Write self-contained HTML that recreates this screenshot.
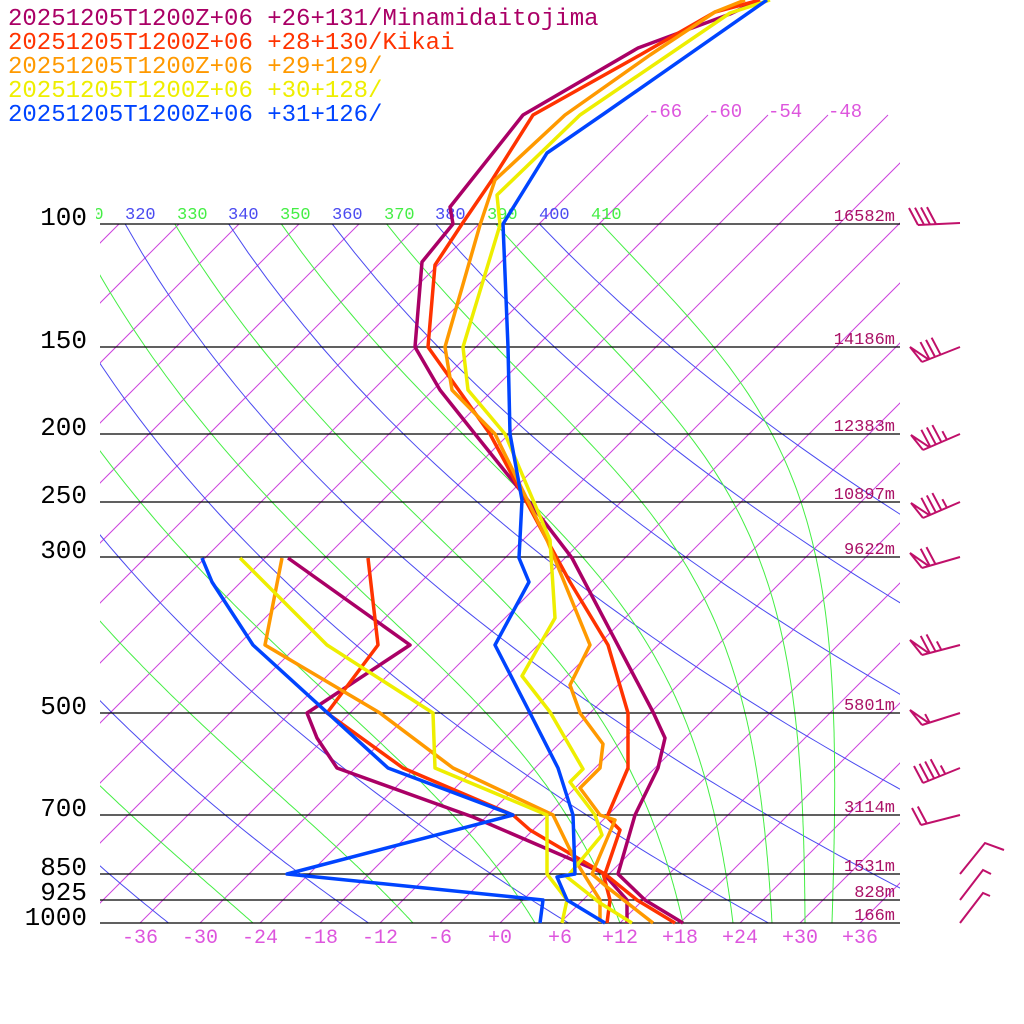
<!DOCTYPE html>
<html><head><meta charset="utf-8"><style>
html,body{margin:0;padding:0;background:#fff;}
svg{display:block}
.t{font-family:"Liberation Mono",monospace;}
</style></head><body>
<svg id="s" width="1024" height="1024" viewBox="0 0 1024 1024" xmlns="http://www.w3.org/2000/svg">
<defs>
<clipPath id="cIso"><rect x="100" y="0" width="800" height="923"/></clipPath>
<clipPath id="cAd"><rect x="100" y="224" width="800" height="699"/></clipPath>
<clipPath id="cLab"><rect x="96" y="190" width="804" height="40"/></clipPath>
</defs>
<g id="iso" clip-path="url(#cIso)" stroke="#cc44dd" stroke-width="1" fill="none"></g>
<g id="dry" clip-path="url(#cAd)" stroke="#4a4af0" stroke-width="1" fill="none"></g>
<g id="moist" clip-path="url(#cAd)" stroke="#44ee44" stroke-width="1" fill="none"></g>
<g stroke="#000" stroke-width="1.3">
<line x1="100" x2="900" y1="224" y2="224"/><line x1="100" x2="900" y1="347" y2="347"/>
<line x1="100" x2="900" y1="434" y2="434"/><line x1="100" x2="900" y1="502" y2="502"/>
<line x1="100" x2="900" y1="557" y2="557"/><line x1="100" x2="900" y1="713" y2="713"/>
<line x1="100" x2="900" y1="815" y2="815"/><line x1="100" x2="900" y1="874" y2="874"/>
<line x1="100" x2="900" y1="900" y2="900"/><line x1="100" x2="900" y1="923" y2="923"/>
</g>
<g class="t" font-size="17" clip-path="url(#cLab)">
<text x="73" y="219" fill="#44ee44">310</text>
<text x="125" y="219" fill="#4a4af0">320</text>
<text x="177" y="219" fill="#44ee44">330</text>
<text x="228" y="219" fill="#4a4af0">340</text>
<text x="280" y="219" fill="#44ee44">350</text>
<text x="332" y="219" fill="#4a4af0">360</text>
<text x="384" y="219" fill="#44ee44">370</text>
<text x="435" y="219" fill="#4a4af0">380</text>
<text x="487" y="219" fill="#44ee44">390</text>
<text x="539" y="219" fill="#4a4af0">400</text>
<text x="591" y="219" fill="#44ee44">410</text>
</g>
<g class="t" font-size="19" fill="#dd55dd">
<text x="648" y="117">-66</text><text x="708" y="117">-60</text>
<text x="768" y="117">-54</text><text x="828" y="117">-48</text>
</g>
<g class="t" font-size="20" fill="#dd55dd">
<text x="122" y="943">-36</text><text x="182" y="943">-30</text><text x="242" y="943">-24</text>
<text x="302" y="943">-18</text><text x="362" y="943">-12</text><text x="428" y="943">-6</text>
<text x="488" y="943">+0</text><text x="548" y="943">+6</text><text x="602" y="943">+12</text>
<text x="662" y="943">+18</text><text x="722" y="943">+24</text><text x="782" y="943">+30</text>
<text x="842" y="943">+36</text>
</g>
<g class="t" font-size="26" fill="#000" text-anchor="end">
<text x="87" y="225">100</text><text x="87" y="348">150</text><text x="87" y="435">200</text>
<text x="87" y="503">250</text><text x="87" y="558">300</text><text x="87" y="714">500</text>
<text x="87" y="816">700</text><text x="87" y="875">850</text><text x="87" y="900">925</text>
<text x="87" y="925">1000</text>
</g>
<g class="t" font-size="17" fill="#aa1166" text-anchor="end">
<text x="895" y="221">16582m</text><text x="895" y="344">14186m</text><text x="895" y="431">12383m</text>
<text x="895" y="499">10897m</text><text x="895" y="554">9622m</text><text x="895" y="710">5801m</text>
<text x="895" y="812">3114m</text><text x="895" y="871">1531m</text><text x="895" y="897">828m</text>
<text x="895" y="920">166m</text>
</g>
<g fill="none" stroke-width="3.5" stroke-linejoin="round">
<polyline stroke="#aa0066" points="683,923 645,900 618,874 635,815 658,768 665,738 653,712 572,558 520,490 475,434 440,390 415,347 422,262 453,224 450,207 523,115 638,48 730,14 760,0"/>
<polyline stroke="#aa0066" points="627,923 627,900 603,873 473,817 337,768 317,738 307,713 410,645 288,558"/>
<polyline stroke="#ff3300" points="675,923 637,900 605,874 620,830 607,817 628,768 628,713 608,645 570,582 547,540 490,434 428,347 435,265 462,224 492,180 533,115 640,55 715,12 760,0"/>
<polyline stroke="#ff3300" points="607,923 610,900 603,873 530,830 513,815 403,768 327,713 378,645 368,558"/>
<polyline stroke="#ff9900" points="653,923 607,887 592,874 615,820 600,815 580,788 600,768 603,744 580,713 570,685 590,645 547,540 495,434 452,390 445,347 480,225 495,180 565,115 650,55 715,12 745,0"/>
<polyline stroke="#ff9900" points="600,923 600,900 575,860 553,815 453,768 380,713 265,645 282,558"/>
<polyline stroke="#eeee00" points="632,923 600,903 567,877 602,835 595,815 570,782 583,769 550,712 522,676 555,618 550,540 505,434 468,390 463,347 500,225 497,195 580,115 730,13 770,0"/>
<polyline stroke="#eeee00" points="562,923 567,900 547,874 547,815 435,768 433,713 327,645 240,558"/>
<polyline stroke="#0044ff" points="605,923 567,900 557,877 575,874 573,815 558,768 530,713 495,645 529,582 519,558 522,500 510,434 508,347 503,224 547,153 605,113 767,0"/>
<polyline stroke="#0044ff" points="540,923 543,900 287,874 513,815 388,768 253,645 212,582 202,558"/>
</g>
<g id="barbs" stroke="#c0106a" stroke-width="2" fill="none"></g>
<g class="t" font-size="24">
<text x="8" y="25" fill="#aa0066">20251205T1200Z+06 +26+131/Minamidaitojima</text>
<text x="8" y="49" fill="#ff3300">20251205T1200Z+06 +28+130/Kikai</text>
<text x="8" y="73" fill="#ff9900">20251205T1200Z+06 +29+129/</text>
<text x="8" y="97" fill="#eeee00">20251205T1200Z+06 +30+128/</text>
<text x="8" y="121" fill="#0044ff">20251205T1200Z+06 +31+126/</text>
</g>
</svg>
<script>
(function(){
var NS="http://www.w3.org/2000/svg";
function add(g,d){var p=document.createElementNS(NS,"path");p.setAttribute("d",d);document.getElementById(g).appendChild(p);}
function Y(p){return 923-303.6*Math.log(1000/p);}
function X(T,y){return 500+10*T+(923-y);}
for(var T=-150;T<=40;T+=6){var yt=T>=-66?115:224;add("iso","M"+X(T,923)+",923L"+X(T,yt)+","+yt);}
for(var th=160;th<=400;th+=20){var d="";for(var p=100;p<=1000;p+=10){var t=th*Math.pow(p/1000,0.2857)-273.15;var y=Y(p);d+=(p==100?"M":"L")+X(t,y).toFixed(1)+","+y.toFixed(1);}add("dry",d);}
var starts=[-88,-72,-56.7,-40.7,-24.7,-8.7,3.5,12,18.3,23.3,27.2,30.5,33.2];
for(var k=0;k<starts.length;k++){var TK=starts[k]+273.15;var d="";for(var p=1000;p>=100;p-=1){var y=Y(p);if(p%5==0)d+=(p==1000?"M":"L")+X(TK-273.15,y).toFixed(1)+","+y.toFixed(1);var tc=TK-273.15;var es=6.112*Math.exp(17.67*tc/(tc+243.5));var rs=0.622*es/Math.max(p-es,1);var dT=(287*TK+2.5e6*rs)/(p*(1005+2.5e6*2.5e6*rs*0.622/(287*TK*TK)));TK-=dT;}add("moist",d);}
var bv=[-9,-17];
function barb(tx,ty,bx,by,items){var ux=tx-bx,uy=ty-by,L=Math.hypot(ux,uy);ux/=L;uy/=L;var d="M"+tx+","+ty+"L"+bx+","+by;var s=0;for(var i=0;i<items.length;i++){var c=items[i];var px=bx+ux*s,py=by+uy*s;if(c=="P"){d+="M"+px+","+py+"L"+(px-12)+","+(py-15)+"L"+(px+ux*7)+","+(py+uy*7);s+=8;}else if(c=="1"){d+="M"+px+","+py+"l"+bv[0]+","+bv[1];s+=6;}else{d+="M"+px+","+py+"l"+bv[0]/2+","+bv[1]/2;s+=6;}}add("barbs",d);}
barb(960,223,918,225,"1111");
barb(960,347,922,362,"P111");
barb(960,434,923,450,"P111h");
barb(960,502,923,518,"P111h");
barb(960,557,922,568,"P11");
barb(960,645,922,655,"P11h");
barb(960,713,922,725,"Ph");
barb(960,768,923,783,"1111h");
barb(960,815,921,825,"11");
add("barbs","M960,874L985,843L1004,850M960,900L983,870L991,874M960,923L983,893L990,896");
})();
</script>
</body></html>
